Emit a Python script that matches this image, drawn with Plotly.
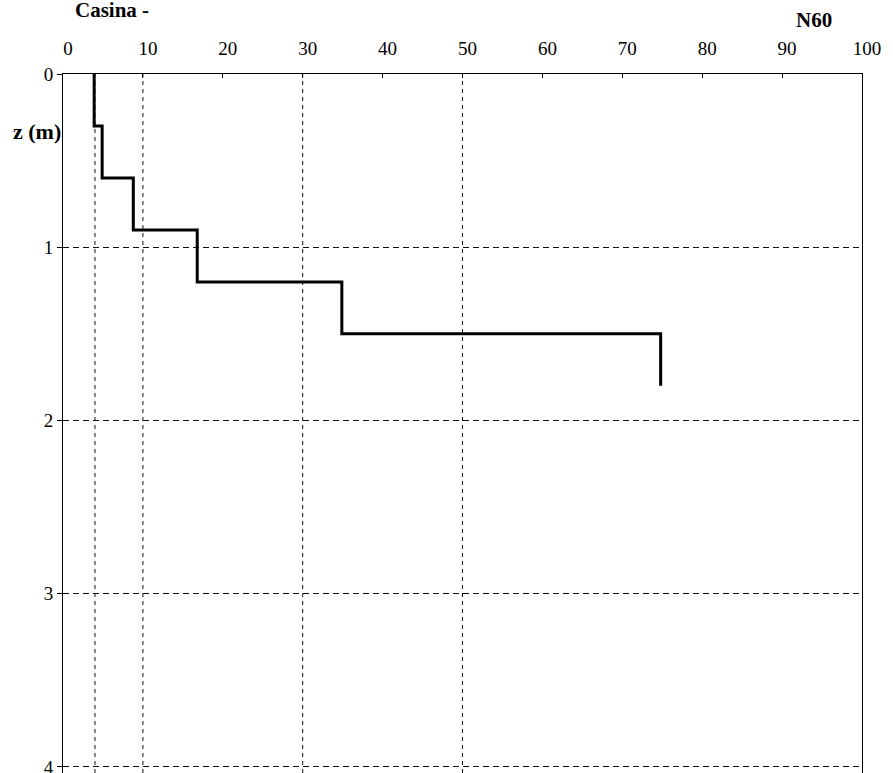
import plotly.graph_objects as go

# Layer data (depth in m, N60 blow counts)
depth_top = [0.0, 0.3, 0.6, 0.9, 1.2, 1.5]
depth_bottom = [0.3, 0.6, 0.9, 1.2, 1.5, 1.8]
n60 = [3.9, 4.9, 8.8, 16.8, 34.9, 74.8]

x_ticks = [0, 10, 20, 30, 40, 50, 60, 70, 80, 90, 100]
y_ticks = [0, 1, 2, 3, 4]
x_grid = [4, 10, 30, 50]

# build step profile
xs, ys = [], []
for n, zt, zb in zip(n60, depth_top, depth_bottom):
    xs += [n, n]
    ys += [zt, zb]

FONT = "Liberation Serif"

fig = go.Figure()
fig.add_trace(go.Scatter(x=xs, y=ys, mode="lines",
                         line=dict(color="black", width=3),
                         showlegend=False, hoverinfo="skip"))

for g in x_grid:
    fig.add_shape(type="line", xref="x", yref="paper", x0=g, x1=g, y0=0, y1=1,
                  line=dict(color="#111111", width=1, dash="4px,4px"), layer="below")

fig.update_layout(
    width=893, height=773,
    margin=dict(l=63, r=31, t=74, b=0),
    paper_bgcolor="white", plot_bgcolor="white",
    font=dict(family=FONT, color="black", size=19),
    xaxis=dict(side="top", range=[0, 100], tickvals=x_ticks,
               showline=True, linecolor="black", linewidth=1, mirror=False,
               ticks="inside", ticklen=4, tickcolor="black",
               showgrid=False, zeroline=False, ticklabelstandoff=10,
               ticklabelshift=5, ticklabeloverflow="allow", automargin=False,
               tickfont=dict(family=FONT, size=19, color="black")),
    yaxis=dict(range=[4.035, 0], tickvals=y_ticks,
               showline=True, linecolor="black", linewidth=1, mirror=True,
               ticks="outside", ticklen=5, tickcolor="black",
               showgrid=True, gridcolor="#111111", gridwidth=1, griddash="6px,4px",
               zeroline=False, ticklabeloverflow="allow", automargin=False,
               tickfont=dict(family=FONT, size=19, color="black")),
    annotations=[
        dict(text="<b>Casina -</b>", xref="paper", yref="paper", x=0.0613, y=1.091,
             xanchor="center", yanchor="middle", showarrow=False,
             font=dict(family=FONT, size=21, color="black")),
        dict(text="<b>N60</b>", xref="paper", yref="paper", x=0.94, y=1.077,
             xanchor="center", yanchor="middle", showarrow=False,
             font=dict(family=FONT, size=21, color="black")),
        dict(text="<b>z (m)</b>", xref="paper", yref="paper", x=0.0, y=0.918,
             xanchor="right", yanchor="middle", showarrow=False,
             font=dict(family=FONT, size=22, color="black")),
    ],
)

fig.write_html(
    "out.html",
    config={"displayModeBar": False},
    post_script="document.body.style.margin='0';"
                "document.body.style.overflow='hidden';"
                "document.documentElement.style.overflow='hidden';",
)
